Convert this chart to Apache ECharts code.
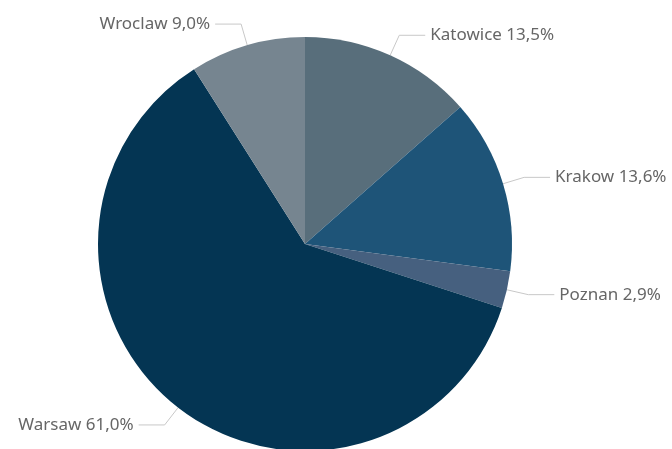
<!DOCTYPE html>
<html><head><meta charset="utf-8">
<script src="https://cdn.jsdelivr.net/npm/echarts@6/dist/echarts.min.js"></script>
<style>html,body{margin:0;padding:0;background:#fff}#c{width:672px;height:449px}</style>
</head><body><div id="c"></div>
<script>
const categories = ['Katowice', 'Krakow', 'Poznan', 'Warsaw', 'Wroclaw'];
const values = [13.5, 13.6, 2.9, 61.0, 9.0];
const colors = ['#586e7b', '#1e5478', '#46607f', '#043553', '#768590'];

const chart = echarts.init(document.getElementById('c'));
chart.setOption({
  animation: false,
  series: [{
    type: 'pie',
    center: [305, 244],
    radius: 207,
    startAngle: 90,
    clockwise: true,
    data: categories.map((n, i) => ({ name: n, value: values[i], itemStyle: { color: colors[i] } })),
    label: {
      show: true,
      color: '#666666',
      fontFamily: 'Noto Sans',
      fontSize: 17,
      overflow: 'none',
      formatter: p => p.name + ' ' + p.value.toFixed(1).replace('.', ',') + '%'
    },
    labelLine: { show: true, length: 22, length2: 26, lineStyle: { color: '#c8c8c8', width: 1 } },
    itemStyle: { borderWidth: 0 }
  }]
});
</script></body></html>
